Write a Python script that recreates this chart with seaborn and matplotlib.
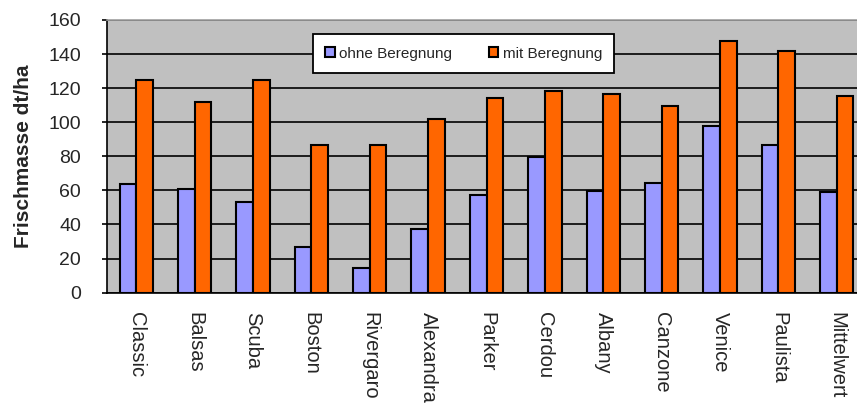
import matplotlib
matplotlib.use("Agg")
import matplotlib.pyplot as plt
import seaborn as sns
import pandas as pd
import numpy as np

# Fresh-mass yield per variety, without and with irrigation (dt/ha)
sorten = ["Classic", "Balsas", "Scuba", "Boston", "Rivergaro", "Alexandra",
          "Parker", "Cerdou", "Albany", "Canzone", "Venice", "Paulista", "Mittelwert"]
ohne_beregnung = [63.5, 61, 53, 26.5, 14.5, 37.5, 57.5, 79.5, 59.5, 64.5, 97.5, 86.5, 59]
mit_beregnung = [125, 112, 125, 86.5, 86.5, 102, 114, 118.5, 116.5, 109.5, 147.5, 142, 115.5]
serien = ["ohne Beregnung", "mit Beregnung"]
y_ticks = [0, 20, 40, 60, 80, 100, 120, 140, 160]

df = pd.DataFrame({
    "Sorte": sorten * 2,
    "Serie": [serien[0]] * len(sorten) + [serien[1]] * len(sorten),
    "Frischmasse": ohne_beregnung + mit_beregnung,
})

sns.set_theme(style="white")
plt.rcParams["font.family"] = ["Liberation Sans", "DejaVu Sans"]

fig = plt.figure(figsize=(8.57, 4.07), dpi=100)
ax = fig.add_axes([0.1249, 0.281, 0.8856, 0.670])
ax.set_facecolor("#C0C0C0")

sns.barplot(data=df, x="Sorte", y="Frischmasse", hue="Serie", order=sorten,
            hue_order=serien, palette=["#9999FF", "#FF6600"], width=0.57,
            edgecolor="black", linewidth=1.5, saturation=1, ax=ax, zorder=3)

ax.set_xlim(-0.5, len(sorten) - 0.5)
ax.set_ylim(0, 160)
ax.set_yticks(y_ticks)
ax.yaxis.grid(True, color="black", linewidth=1.2, zorder=1)
ax.set_axisbelow(True)

# Category boundaries get the tick marks, labels sit at category centres
ax.set_xticks(np.arange(len(sorten)))
ax.set_xticklabels(sorten, rotation=270, ha="center", va="top", fontsize=14.5)
ax.set_xticks(np.arange(len(sorten) + 1) - 0.5, minor=True)
ax.tick_params(axis="x", which="major", length=0, pad=14)
ax.tick_params(axis="x", which="minor", length=6, width=1.2, color="black", direction="out")
ax.tick_params(axis="y", length=3.8, width=1.2, color="black", direction="out",
               labelsize=14, pad=15, left=True)

ax.set_xlabel("")
ax.set_ylabel("Frischmasse dt/ha", fontsize=15, fontweight="bold", labelpad=11)

for side in ["left", "bottom"]:
    ax.spines[side].set_color("black")
    ax.spines[side].set_linewidth(1.2)
ax.spines["top"].set_color("#A0A0A0")
ax.spines["top"].set_linewidth(1.2)
ax.spines["right"].set_visible(False)

handles, labels = ax.get_legend_handles_labels()
ax.legend(handles, labels, ncol=2, loc="upper center", bbox_to_anchor=(0.47, 0.975),
          fontsize=11, frameon=True, fancybox=False, edgecolor="black",
          facecolor="white", framealpha=1, handlelength=0.6, handleheight=0.6,
          handletextpad=0.3, columnspacing=2.4, borderpad=0.8)
ax.get_legend().get_frame().set_linewidth(1.3)

fig.savefig("out.png", dpi=100)
